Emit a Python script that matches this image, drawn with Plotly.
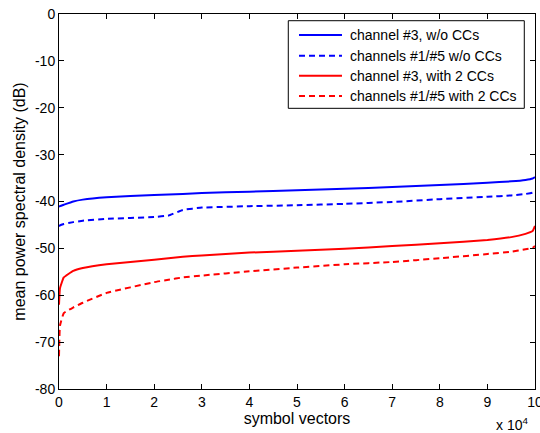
import plotly.graph_objects as go

x_vals = [0, 0.02, 0.1, 0.3, 0.5, 1, 2, 2.3, 2.6, 3, 4, 5, 6, 7, 8, 9, 9.5, 9.8, 9.95, 10]
blue_solid = [-41.1, -41.0, -40.7, -40.0, -39.6, -39.1, -38.6, -38.5, -38.4, -38.2, -37.9, -37.6, -37.3, -36.9, -36.5, -36.0, -35.7, -35.4, -35.1, -34.8]
blue_dashed = [-45.3, -45.1, -44.8, -44.4, -44.1, -43.7, -43.3, -43.0, -41.8, -41.3, -41.0, -40.8, -40.5, -40.1, -39.5, -39.0, -38.7, -38.4, -38.1, -37.7]
red_solid = [-62.0, -58.5, -56.2, -54.8, -54.2, -53.4, -52.4, -52.1, -51.8, -51.5, -50.9, -50.5, -50.1, -49.5, -48.9, -48.2, -47.6, -46.9, -46.3, -45.2]
red_dashed = [-73.0, -66.5, -63.8, -62.6, -61.6, -59.5, -57.2, -56.7, -56.2, -55.8, -54.9, -54.1, -53.4, -52.9, -52.1, -51.2, -50.7, -50.2, -49.9, -49.5]
names = ["channel #3, w/o CCs", "channels #1/#5 w/o CCs", "channel #3, with 2 CCs", "channels #1/#5 with 2 CCs"]
x_ticks = list(range(0, 11))
y_ticks = list(range(-80, 1, 10))

FONT = "Liberation Sans, Arial"
DASH = "6px,4px"
fig = go.Figure()
series = [(blue_solid, "blue", "solid"), (blue_dashed, "blue", DASH),
          (red_solid, "red", "solid"), (red_dashed, "red", DASH)]
for (ys, col, dash), nm in zip(series, names):
    fig.add_trace(go.Scatter(x=x_vals, y=ys, mode="lines", name=nm, cliponaxis=False,
                             showlegend=False,
                             line=dict(color=col, width=2, dash=dash, shape="spline", smoothing=0.3)))

axis_common = dict(showline=True, linecolor="black", linewidth=1, mirror="ticks",
                   ticks="inside", ticklen=5, tickcolor="black", showgrid=False,
                   zeroline=False, automargin=False, ticklabeloverflow="allow",
                   tickfont=dict(family=FONT, size=14, color="black"))
fig.update_xaxes(range=[0, 10], tickvals=x_ticks, ticktext=[str(t) for t in x_ticks],
                 title=dict(text="symbol vectors", font=dict(family=FONT, size=16, color="black"), standoff=2),
                 **axis_common)
fig.update_yaxes(range=[-80, 0], tickvals=y_ticks, ticktext=[str(t) for t in y_ticks],
                 title=dict(text="mean power spectral density (dB)", font=dict(family=FONT, size=16, color="black"), standoff=5),
                 **axis_common)

# axis multiplier
fig.add_annotation(text="x 10<sup>4</sup>", xref="paper", yref="paper", x=0.99, y=0, yshift=-24,
                   xanchor="right", yanchor="top", showarrow=False,
                   font=dict(family=FONT, size=14, color="black"))

# legend box (drawn to mimic MATLAB's legend)
leg_x0, leg_x1, leg_y0, leg_y1 = 0.4817, 0.9775, 0.7485, 0.9821
line_x0, line_x1, text_x = 0.5042, 0.5945, 0.6065
row_y = [0.944, 0.8888, 0.8355, 0.7813]
fig.add_shape(type="rect", xref="paper", yref="paper", x0=leg_x0, x1=leg_x1, y0=leg_y0, y1=leg_y1,
              line=dict(color="black", width=1), fillcolor="white", layer="above")
for (ys, col, dash), nm, ry in zip(series, names, row_y):
    fig.add_shape(type="line", xref="paper", yref="paper", x0=line_x0, x1=line_x1, y0=ry, y1=ry,
                  line=dict(color=col, width=2, dash=dash), layer="above")
    fig.add_annotation(text=nm, xref="paper", yref="paper", x=text_x, y=ry, xanchor="left",
                       yanchor="middle", showarrow=False,
                       font=dict(family=FONT, size=14, color="black"))

fig.update_layout(
    width=540, height=433,
    margin=dict(l=59, r=5, t=14, b=44, autoexpand=False),
    paper_bgcolor="white", plot_bgcolor="white",
    font=dict(family=FONT, size=13, color="black"),
    showlegend=False,
)
fig.write_html("out.html", config={"displayModeBar": False},
               post_script="document.body.style.margin='0';document.body.style.overflow='hidden';")
